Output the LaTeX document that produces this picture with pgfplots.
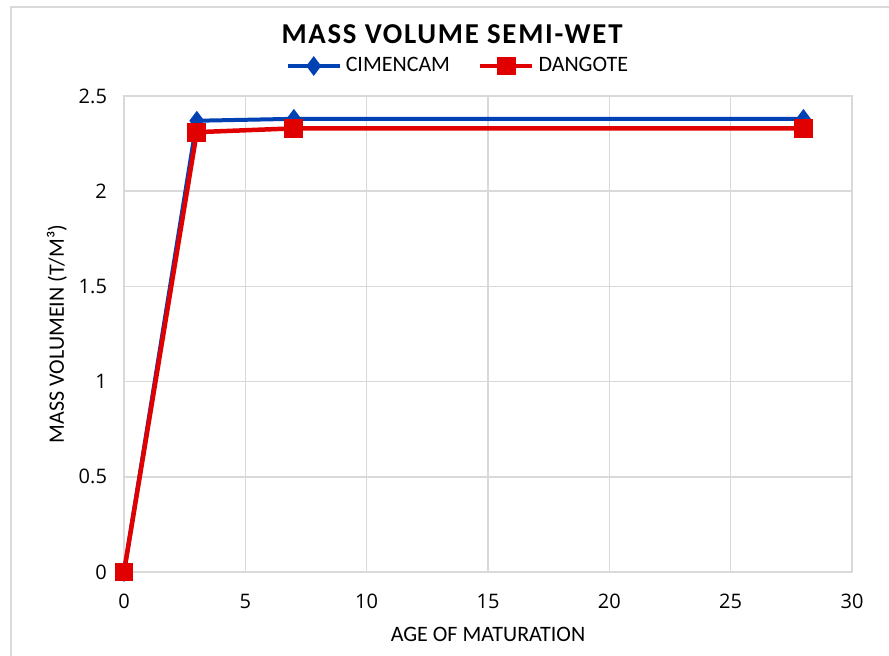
\documentclass[border=0pt]{standalone}
\usepackage{pgfplots}
\pgfplotsset{compat=1.18}
\usepackage{fontspec}
\setmainfont{Carlito}
\newfontfamily\tickfont{Open Sans}
\newfontfamily\titlefont[LetterSpace=6]{Carlito}
\definecolor{cblue}{RGB}{0,65,180}
\definecolor{cred}{RGB}{225,0,0}
\definecolor{cgrid}{RGB}{217,217,217}
\begin{document}
\begin{tikzpicture}
\useasboundingbox (0,0) rectangle (444.5pt,-328pt);
\draw[cgrid, line width=1pt] (5.5pt,-340pt) -- (5.5pt,-3.5pt) -- (450pt,-3.5pt);
\node at (226pt,-17pt) {\titlefont\fontsize{14.4}{16}\selectfont\bfseries MASS VOLUME SEMI-WET};
\begin{axis}[
  at={(62pt,-286pt)}, anchor=south west,
  scale only axis, width=364pt, height=238pt,
  xmin=0, xmax=30, ymin=0, ymax=2.5,
  xtick={0,5,...,30}, ytick={0,0.5,...,2.5},
  grid=major, grid style={cgrid, line width=0.75pt},
  axis line style={cgrid, line width=0.75pt},
  tick style={draw=none},
  ticklabel style={font=\tickfont\fontsize{10}{12}\selectfont},
  /pgf/number format/assume math mode=true,
  yticklabel style={xshift=-5pt},
  xticklabel style={yshift=-7.5pt},
  clip=false,
  xlabel={AGE OF MATURATION}, ylabel={MASS VOLUMEIN (T/M³)},
  label style={font=\fontsize{11}{13}\selectfont},
  xlabel style={at={(axis description cs:0.5,-0.132)}, anchor=center},
  ylabel style={at={(axis description cs:-0.092,0.5)}, anchor=center, rotate=0},
  legend columns=2,
  legend style={draw=none, at={(0.46,1.063)}, anchor=center, font=\fontsize{11}{13}\selectfont, /tikz/every even column/.append style={column sep=12pt}},
  legend image code/.code={\draw[#1] (0pt,0pt) -- (26pt,0pt); \draw[#1, only marks] plot coordinates {(13pt,0pt)};},
]
\addplot[cblue, line width=2pt, mark=diamond*, mark size=3.3pt, mark options={solid}] coordinates {(0,0) (3,2.37) (7,2.38) (28,2.38)};
\addlegendentry{CIMENCAM}
\addplot[cred, line width=2.25pt, mark=square*, mark size=3.6pt] coordinates {(0,0) (3,2.31) (7,2.33) (28,2.33)};
\addlegendentry{DANGOTE}
\end{axis}
\end{tikzpicture}
\end{document}
